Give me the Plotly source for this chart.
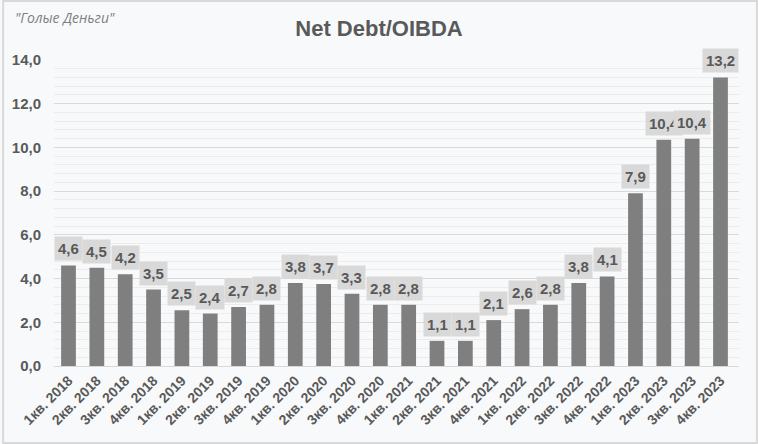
import plotly.graph_objects as go

categories = [
    "1кв. 2018", "2кв. 2018", "3кв. 2018", "4кв. 2018",
    "1кв. 2019", "2кв. 2019", "3кв. 2019", "4кв. 2019",
    "1кв. 2020", "2кв. 2020", "3кв. 2020", "4кв. 2020",
    "1кв. 2021", "2кв. 2021", "3кв. 2021", "4кв. 2021",
    "1кв. 2022", "2кв. 2022", "3кв. 2022", "4кв. 2022",
    "1кв. 2023", "2кв. 2023", "3кв. 2023", "4кв. 2023",
]
values = [4.6, 4.5, 4.2, 3.5, 2.55, 2.4, 2.7, 2.8, 3.8, 3.75, 3.3, 2.8,
          2.8, 1.15, 1.15, 2.1, 2.6, 2.8, 3.8, 4.1, 7.9, 10.35, 10.4, 13.2]
labels = ["4,6", "4,5", "4,2", "3,5", "2,5", "2,4", "2,7", "2,8", "3,8", "3,7", "3,3", "2,8",
          "2,8", "1,1", "1,1", "2,1", "2,6", "2,8", "3,8", "4,1", "7,9", "10,4", "10,4", "13,2"]
title_text = "Net Debt/OIBDA"
watermark = "\"Голые Деньги\""

TXT = "#595959"
FONT = "Liberation Sans, Arial, sans-serif"

fig = go.Figure()
fig.add_trace(go.Bar(x=categories, y=values, marker=dict(color="#7f7f7f", line=dict(width=0)),
                     hoverinfo="skip"))

for c, v, t in zip(categories, values, labels):
    fig.add_annotation(x=c, y=v, text="<b>%s</b>" % t, showarrow=False, yanchor="bottom",
                       yshift=4, bgcolor="#d9d9d9", borderpad=3,
                       font=dict(family=FONT, size=15, color=TXT))

L, R, T, B = 52, 19, 60, 78
W, H = 758, 444
pw, ph = W - L - R, H - T - B

fig.add_shape(type="rect", xref="paper", yref="paper",
              x0=-(L - 1) / pw, x1=1 + (R - 1) / pw, y0=-(B - 1) / ph, y1=1 + (T - 1) / ph,
              line=dict(color="#d9d9d9", width=2), layer="below")

fig.add_annotation(xref="paper", yref="paper", x=-(L - 11) / pw, y=1 + (T - 6) / ph,
                   xanchor="left", yanchor="top", text="<i>%s</i>" % watermark, showarrow=False,
                   font=dict(family="Open Sans, sans-serif", size=14, color="#7f7f7f"))

fig.update_layout(
    width=W, height=H,
    margin=dict(l=L, r=R, t=T, b=B),
    paper_bgcolor="#f8f9fb", plot_bgcolor="#f8f9fb",
    separators=", ",
    bargap=0.48,
    showlegend=False,
    title=dict(text="<b>%s</b>" % title_text, x=0.5, xref="container", y=1 - 28 / H, yanchor="middle",
               font=dict(family=FONT, size=22, color=TXT)),
    xaxis=dict(tickangle=-45, tickfont=dict(family=FONT, size=14, color=TXT, weight="bold"),
               showline=True, linecolor="#d9d9d9", linewidth=1, ticks="", showgrid=False),
    yaxis=dict(range=[0, 14], dtick=2, tickformat=".1f",
               tickfont=dict(family=FONT, size=15, color=TXT, weight="bold"),
               showgrid=True, gridcolor="#d9d9d9", gridwidth=1, zeroline=False,
               minor=dict(dtick=0.4, showgrid=True, gridcolor="#ececec", gridwidth=1),
               ticks="", ticklabelstandoff=12),
)

fig.write_html("out.html")
